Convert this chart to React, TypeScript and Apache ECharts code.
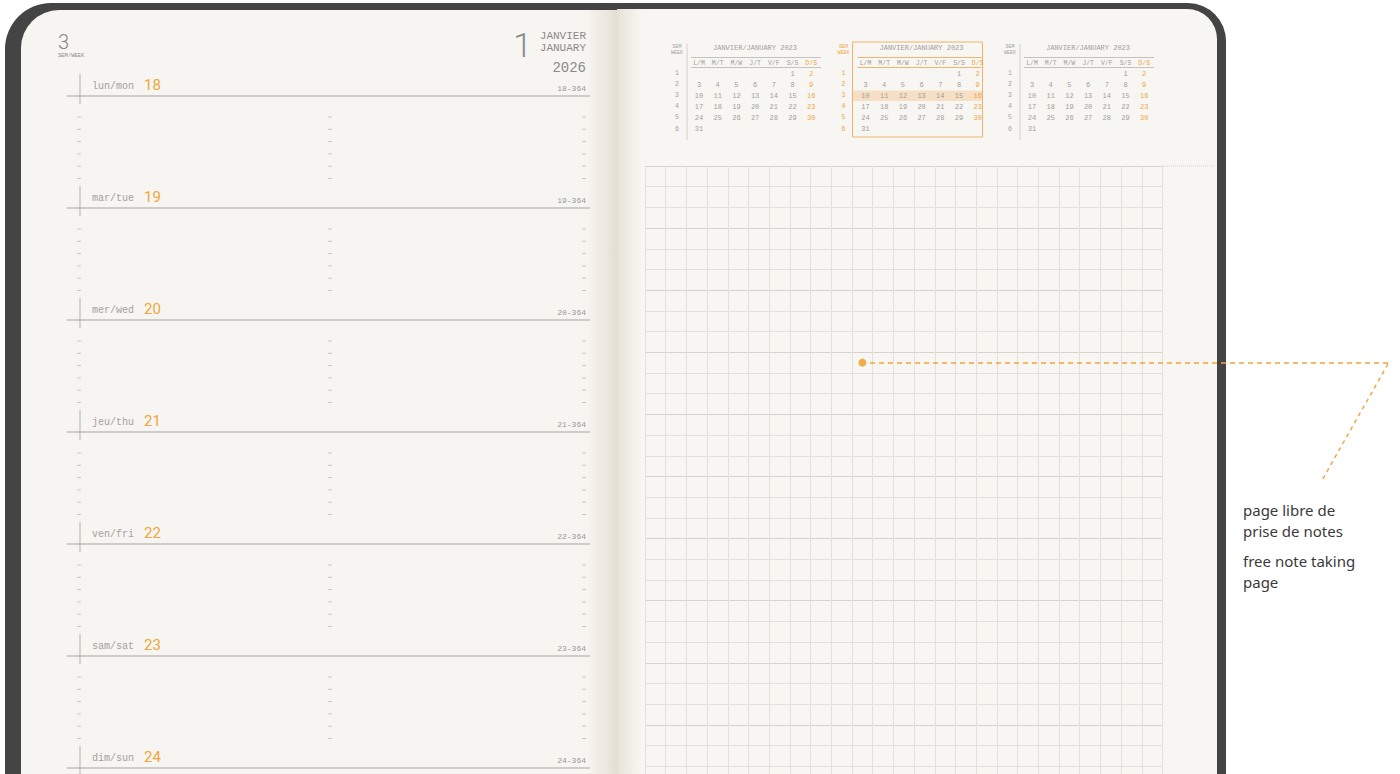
import React, { useEffect, useRef } from "react";
import * as echarts from "echarts";

// ---------- content ----------
const weekNumber = "3";
const weekLabel = "SEM/WEEK";
const monthDay = "1";
const monthFr = "JANVIER";
const monthEn = "JANUARY";
const yearLabel = "2026";

const dayLabels = ["lun/mon", "mar/tue", "mer/wed", "jeu/thu", "ven/fri", "sam/sat", "dim/sun"];
const dayNumbers = ["18", "19", "20", "21", "22", "23", "24"];
const dayOfYear = ["18-364", "19-364", "20-364", "21-364", "22-364", "23-364", "24-364"];

const calTitles = ["JANVIER/JANUARY 2023", "JANVIER/JANUARY 2023", "JANVIER/JANUARY 2023"];
const calWeekHead = ["SEM", "WEEK"];
const calHeaders = ["L/M", "M/T", "M/W", "J/T", "V/F", "S/S", "D/S"];
const calWeekNumbers = ["1", "2", "3", "4", "5", "6"];
const calDays = [
  ["", "", "", "", "", "1", "2"],
  ["3", "4", "5", "6", "7", "8", "9"],
  ["10", "11", "12", "13", "14", "15", "16"],
  ["17", "18", "19", "20", "21", "22", "23"],
  ["24", "25", "26", "27", "28", "29", "30"],
  ["31", "", "", "", "", "", ""],
];
const highlightedCal = 1;
const highlightedWeekRow = 2;

const noteCols = 25;
const noteRowsVisible = 29.37;
const noteMajorStep = 3;
const notePoint = [[10.5, 9.5]];

const calloutFr = ["page libre de", "prise de notes"];
const calloutEn = ["free note taking", "page"];

// ---------- styles ----------
const ORANGE = "#f0a53a";
const DOT = "#f39a1e";
const DASH = "#f2a236";
const GRAY_TXT = "#a3a19c";
const MONO = "'Liberation Mono', 'DejaVu Sans Mono', monospace";
const SANS = "Roboto, 'Noto Sans', sans-serif";

function buildGraphics() {
  const LG = echarts.graphic.LinearGradient;
  const els: any[] = [];
  // cover
  els.push({ type: "rect", z: -20, shape: { x: 5, y: 3, width: 1221, height: 830, r: [46, 38, 0, 0] }, style: { fill: "#444444" } });
  // pages
  els.push({ type: "rect", z: -19, shape: { x: 21, y: 10, width: 598, height: 820, r: [38, 0, 0, 0] }, style: { fill: "#f7f5f1" } });
  els.push({ type: "rect", z: -19, shape: { x: 619, y: 9, width: 598, height: 820, r: [0, 30, 0, 0] }, style: { fill: "#f8f6f3" } });
  // gutter shading
  els.push({
    type: "rect", z: -18, shape: { x: 588, y: 10, width: 29, height: 820 },
    style: { fill: new LG(0, 0, 1, 0, [{ offset: 0, color: "rgba(232,226,214,0)" }, { offset: 0.6, color: "#eee9df" }, { offset: 1, color: "#e2ddd0" }]) },
  });
  els.push({
    type: "rect", z: -18, shape: { x: 617, y: 9, width: 26, height: 820 },
    style: { fill: new LG(0, 0, 1, 0, [{ offset: 0, color: "#e6e2d7" }, { offset: 1, color: "rgba(236,232,222,0)" }]) },
  });
  els.push({ type: "polygon", z: -17, shape: { points: [[604, 3], [626, 3], [615, 10]] }, style: { fill: "#444444" } });

  // left page header
  els.push({ type: "text", x: 58, y: 32, style: { text: weekNumber, fill: "#858585", fontSize: 20, fontFamily: SANS, fontWeight: 300, align: "left", verticalAlign: "top" } });
  els.push({ type: "text", x: 58, y: 55, style: { text: weekLabel, fill: "#8a8a8a", fontSize: 5.5, fontFamily: MONO, align: "left", verticalAlign: "middle" } });
  els.push({ type: "text", x: 532, y: 45, style: { text: monthDay, fill: "#8a8a8a", fontSize: 34, fontFamily: SANS, fontWeight: 300, align: "right", verticalAlign: "middle" } });
  els.push({ type: "text", x: 586, y: 36, style: { text: monthFr, fill: "#8a8a8a", fontSize: 11, fontFamily: MONO, align: "right", verticalAlign: "middle" } });
  els.push({ type: "text", x: 586, y: 48, style: { text: monthEn, fill: "#8a8a8a", fontSize: 11, fontFamily: MONO, align: "right", verticalAlign: "middle" } });
  els.push({ type: "text", x: 586, y: 68, style: { text: yearLabel, fill: "#8a8a8a", fontSize: 14, fontFamily: MONO, align: "right", verticalAlign: "middle" } });

  // day rows
  dayLabels.forEach((lab, i) => {
    const cy = 86 + i * 112;
    const ly = cy + 10;
    els.push({ type: "text", x: 92, y: cy, style: { text: lab, fill: GRAY_TXT, fontSize: 10, fontFamily: MONO, align: "left", verticalAlign: "middle" } });
    els.push({ type: "text", x: 144, y: cy - 1, style: { text: dayNumbers[i], fill: ORANGE, fontSize: 15, fontFamily: SANS, align: "left", verticalAlign: "middle" } });
    els.push({ type: "text", x: 586, y: cy + 2, style: { text: dayOfYear[i], fill: "#9a9894", fontSize: 8, fontFamily: MONO, align: "right", verticalAlign: "middle" } });
    els.push({ type: "line", shape: { x1: 67, y1: ly, x2: 590, y2: ly }, style: { stroke: "#a5a39f", lineWidth: 1 } });
    els.push({ type: "line", shape: { x1: 80, y1: cy - 12, x2: 80, y2: ly + 8 }, style: { stroke: "#b3b1ad", lineWidth: 1 } });
    for (let k = 0; k < 6; k++) {
      const ty = ly + 21 + k * 12.3;
      [79, 330, 584].forEach((tx) => {
        els.push({ type: "line", shape: { x1: tx - 2, y1: ty, x2: tx + 2, y2: ty }, style: { stroke: "#c9c7c2", lineWidth: 1 } });
      });
    }
  });

  // mini calendars
  calTitles.forEach((title, c) => {
    const L = 687 + c * 166.5;
    const hl = c === highlightedCal;
    const lineCol = hl ? "#f0b46a" : "#c4c2be";
    const wkCol = hl ? ORANGE : "#a3a19d";
    const txtCol = "#a09e9a";
    if (hl) {
      els.push({ type: "rect", shape: { x: L - 1, y: 73.5 + highlightedWeekRow * 11.1 - 5.3, width: 130, height: 10.6 }, style: { fill: "#f6dfc4" } });
      els.push({ type: "rect", shape: { x: L - 1, y: 42, width: 130, height: 95 }, style: { fill: "none", stroke: "#f1b36a", lineWidth: 1 } });
    } else {
      els.push({ type: "line", shape: { x1: L, y1: 44, x2: L, y2: 140 }, style: { stroke: "#d2d0cc", lineWidth: 1 } });
    }
    els.push({ type: "text", x: L - 10, y: 47, style: { text: calWeekHead[0], fill: wkCol, fontSize: 5, fontFamily: MONO, align: "center", verticalAlign: "middle" } });
    els.push({ type: "text", x: L - 10, y: 53, style: { text: calWeekHead[1], fill: wkCol, fontSize: 5, fontFamily: MONO, align: "center", verticalAlign: "middle" } });
    els.push({ type: "text", x: L + 68, y: 48, style: { text: title, fill: txtCol, fontSize: 7, fontFamily: MONO, align: "center", verticalAlign: "middle" } });
    els.push({ type: "line", shape: { x1: L + 4, y1: 57.5, x2: L + (hl ? 128 : 134), y2: 57.5 }, style: { stroke: lineCol, lineWidth: 1 } });
    els.push({ type: "line", shape: { x1: L + 4, y1: 67.5, x2: L + (hl ? 128 : 134), y2: 67.5 }, style: { stroke: lineCol, lineWidth: 1 } });
    calHeaders.forEach((h, j) => {
      els.push({ type: "text", x: L + 12 + j * 18.7, y: 63, style: { text: h, fill: j === 6 ? ORANGE : txtCol, fontSize: 6.5, fontFamily: MONO, align: "center", verticalAlign: "middle" } });
    });
    calWeekNumbers.forEach((w, r) => {
      const ry = 73.5 + r * 11.1;
      els.push({ type: "text", x: L - 10, y: ry, style: { text: w, fill: wkCol, fontSize: 6.5, fontFamily: MONO, align: "center", verticalAlign: "middle" } });
      calDays[r].forEach((d, j) => {
        if (!d) return;
        els.push({ type: "text", x: L + 12 + j * 18.7, y: ry, style: { text: d, fill: j === 6 ? ORANGE : txtCol, fontSize: 7, fontFamily: MONO, align: "center", verticalAlign: "middle" } });
      });
    });
  });

  // extension of top grid line
  els.push({ type: "line", z: 1, shape: { x1: 1163, y1: 166, x2: 1215, y2: 166 }, style: { stroke: "#d6d4cf", lineWidth: 1, lineDash: [1, 1] } });

  // callout
  els.push({ type: "line", z: 10, shape: { x1: 870, y1: 363, x2: 1388, y2: 363 }, style: { stroke: DASH, lineWidth: 1.5, lineDash: [5, 4] } });
  els.push({ type: "line", z: 10, shape: { x1: 1388, y1: 364, x2: 1321, y2: 482 }, style: { stroke: DASH, lineWidth: 1.4, lineDash: [4, 4] } });
  calloutFr.forEach((t, i) => {
    els.push({ type: "text", x: 1243, y: 510 + i * 21, style: { text: t, fill: "#3a3a3a", fontSize: 15, fontFamily: "'Noto Sans', sans-serif", align: "left", verticalAlign: "middle" } });
  });
  calloutEn.forEach((t, i) => {
    els.push({ type: "text", x: 1243, y: 561 + i * 21, style: { text: t, fill: "#3a3a3a", fontSize: 15, fontFamily: "'Noto Sans', sans-serif", align: "left", verticalAlign: "middle" } });
  });
  return els;
}

export default function App() {
  const ref = useRef<HTMLDivElement>(null);
  useEffect(() => {
    if (!ref.current) return;
    const chart = echarts.init(ref.current, undefined, { renderer: "svg" });
    const cell = 20.7;
    const hidden = { axisLine: { show: false }, axisTick: { show: false }, axisLabel: { show: false } };
    chart.setOption({
      animation: false,
      backgroundColor: "#ffffff",
      grid: { left: 645, top: 166, width: cell * noteCols, height: cell * noteRowsVisible, show: false },
      xAxis: {
        type: "value", min: 0, max: noteCols, interval: 1, ...hidden,
        splitLine: { show: true, lineStyle: { color: "#e2e0db", width: 1 } },
      },
      yAxis: [
        {
          type: "value", min: 0, max: noteRowsVisible, interval: 1, inverse: true, ...hidden,
          splitLine: { show: true, lineStyle: { color: "#e2e0db", width: 1 } },
        },
        {
          type: "value", min: 0, max: noteRowsVisible, interval: noteMajorStep, inverse: true, ...hidden,
          splitLine: { show: true, lineStyle: { color: "#d5d3ce", width: 1 } },
        },
      ],
      graphic: { elements: buildGraphics() },
      series: [
        {
          type: "scatter", xAxisIndex: 0, yAxisIndex: 0, data: notePoint, symbolSize: 8, z: 12,
          itemStyle: { color: DOT }, silent: true,
        },
      ],
    });
    return () => chart.dispose();
  }, []);
  return <div ref={ref} style={{ position: "fixed", left: 0, top: 0, width: 1400, height: 774 }} />;
}
